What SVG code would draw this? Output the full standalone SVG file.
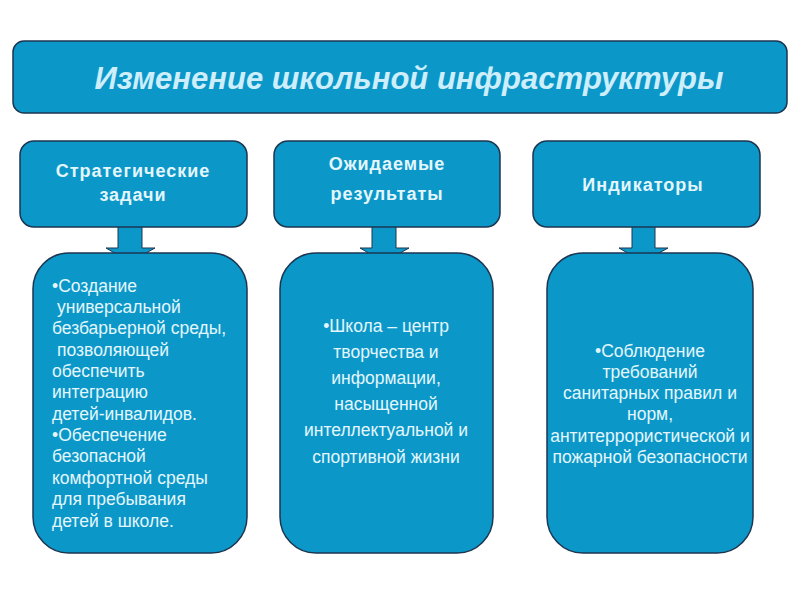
<svg xmlns="http://www.w3.org/2000/svg" width="800" height="600" viewBox="0 0 800 600">
<style>
.box{fill:#0b98c9;stroke:#1c3550;stroke-width:1.5}
.arr{fill:#0b98c9;stroke:#1c3550;stroke-width:1}
.t{font-family:"Liberation Sans",Arial,sans-serif;fill:#e4f6fc}
.title{font-size:31px;font-style:italic;font-weight:bold;fill:#cdeefa}
.h{font-size:18px;font-weight:bold;letter-spacing:1px}
.b{font-size:17.5px}
</style>
<rect width="800" height="600" fill="#ffffff"/>
<g id="connectors">
<path class="arr" d="M118,226 H142 V248 H155 L130,262 L106,248 H118 Z"/>
<path class="arr" d="M372,226 H396 V248 H409 L384,262 L360,248 H372 Z"/>
<path class="arr" d="M632,226 H655 V248 H668 L643,262 L619,248 H632 Z"/>
</g>
<g id="title">
<rect class="box" x="13" y="41" width="774" height="72" rx="11"/>
<text class="t title" x="409" y="89" text-anchor="middle">Изменение школьной инфраструктуры</text>
</g>
<g id="h1">
<rect class="box" x="20" y="141" width="227" height="86" rx="14"/>
<text class="t h" x="133" y="177" text-anchor="middle">Стратегические</text>
<text class="t h" x="133" y="201" text-anchor="middle">задачи</text>
</g>
<g id="h2">
<rect class="box" x="274" y="141" width="226" height="86" rx="14"/>
<text class="t h" x="387" y="170" text-anchor="middle">Ожидаемые</text>
<text class="t h" x="387" y="200" text-anchor="middle">результаты</text>
</g>
<g id="h3">
<rect class="box" x="533" y="141" width="227" height="86" rx="14"/>
<text class="t h" x="643" y="191" text-anchor="middle">Индикаторы</text>
</g>
<g id="b1">
<rect class="box" x="33" y="253" width="214" height="300" rx="36"/>
<text class="t b" x="52" y="292">•Создание</text>
<text class="t b" x="57" y="313">универсальной</text>
<text class="t b" x="52" y="334">безбарьерной среды,</text>
<text class="t b" x="57" y="356">позволяющей</text>
<text class="t b" x="52" y="377">обеспечить</text>
<text class="t b" x="52" y="398">интеграцию</text>
<text class="t b" x="52" y="420">детей-инвалидов.</text>
<text class="t b" x="52" y="441">•Обеспечение</text>
<text class="t b" x="52" y="462">безопасной</text>
<text class="t b" x="52" y="484">комфортной среды</text>
<text class="t b" x="52" y="505">для пребывания</text>
<text class="t b" x="52" y="527">детей в школе.</text>
</g>
<g id="b2">
<rect class="box" x="280" y="253" width="213" height="300" rx="36"/>
<text class="t b" x="386" y="332" text-anchor="middle">•Школа – центр</text>
<text class="t b" x="386" y="358" text-anchor="middle">творчества и</text>
<text class="t b" x="386" y="384" text-anchor="middle">информации,</text>
<text class="t b" x="386" y="410" text-anchor="middle">насыщенной</text>
<text class="t b" x="386" y="436" text-anchor="middle">интеллектуальной и</text>
<text class="t b" x="386" y="463" text-anchor="middle">спортивной жизни</text>
</g>
<g id="b3">
<rect class="box" x="547" y="253" width="206" height="300" rx="36"/>
<text class="t b" x="650" y="357" text-anchor="middle">•Соблюдение</text>
<text class="t b" x="650" y="378" text-anchor="middle">требований</text>
<text class="t b" x="650" y="399" text-anchor="middle">санитарных правил и</text>
<text class="t b" x="650" y="420" text-anchor="middle">норм,</text>
<text class="t b" x="650" y="442" text-anchor="middle">антитеррористической и</text>
<text class="t b" x="650" y="463" text-anchor="middle">пожарной безопасности</text>
</g>
</svg>
